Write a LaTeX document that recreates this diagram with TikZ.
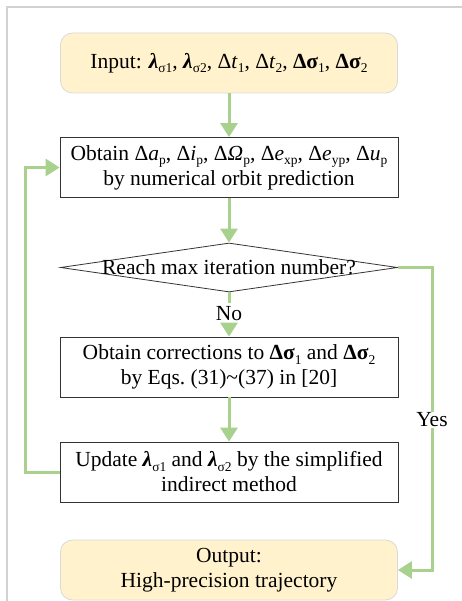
\documentclass[tikz,border=0pt]{standalone}
\usepackage{fontspec}
\setmainfont{Liberation Serif}
\usetikzlibrary{arrows.meta,shapes.geometric}
\definecolor{flowgreen}{HTML}{A9D18E}
\definecolor{ioyellow}{HTML}{FFF2CC}
\definecolor{ioborder}{HTML}{D9D9D9}
% Symbols
\newcommand\sub[1]{\raisebox{-0.22em}{\fontsize{13.5}{13.5}\selectfont #1}}
\newcommand\lamsig[1]{\textbf{\textit{λ}}\sub{σ#1}}
\newcommand\dsig[1]{\textbf{Δσ}\sub{#1}}
\begin{document}
\begin{tikzpicture}[x=1pt,y=-1pt,
    font=\fontsize{21.5}{25}\selectfont,
    iobox/.style={draw=ioborder,fill=ioyellow,rounded corners=12pt,line width=0.8pt,
      minimum width=337pt,minimum height=60pt,align=center},
    procbox/.style={draw=black!80,line width=0.8pt,
      minimum width=338pt,minimum height=60pt,align=center},
    decide/.style={diamond,draw=black!80,line width=0.8pt,inner sep=0pt,
      minimum width=337pt,minimum height=49pt},
    link/.style={flowgreen,line width=3pt},
    flow/.style={link,-{Triangle[width=17pt,length=14pt]}}]
      \useasboundingbox (0,0) rectangle (462,601);
      % Page frame
      \draw[gray!35,line width=1.2pt] (7,601) -- (7,7) -- (462,7);

      % Boxes
      \node[iobox] (input) at (229,63)
        {Input: \lamsig1, \lamsig2, Δ\textit{t}\sub{1}, Δ\textit{t}\sub{2}, \dsig1, \dsig2};
      \node[procbox] (obtain) at (229,167.5)
        {Obtain Δ\textit{a}\sub{p}, Δ\textit{i}\sub{p}, Δ\textit{Ω}\sub{p}, Δ\textit{e}\sub{xp}, Δ\textit{e}\sub{yp}, Δ\textit{u}\sub{p}\\
         by numerical orbit prediction};
      \node[decide] (reach) at (229,267.5) {};
      \node (reachtext) at (reach.center) {Reach max iteration number?};
      \node (no) at (229,314) {No};
      \node[procbox] (corr) at (229,367)
        {Obtain corrections to \dsig1 and \dsig2\\
         by Eqs.\ (31)\textasciitilde(37) in [20]};
      \node[procbox] (update) at (229,472)
        {Update \lamsig1 and \lamsig2 by the simplified\\
         indirect method};
      \node[iobox] (output) at (229,570)
        {Output:\\ High-precision trajectory};
      \node[fill=white,inner sep=1pt] (yes) at (432,420) {Yes};

      % Connectors
      \draw[flow] (input) -- (obtain);
      \draw[flow] (obtain) -- (reach);
      \draw[link] (reach.south) -- (no);
      \draw[flow] (no) -- (corr);
      \draw[flow] (corr) -- (update);
      \draw[flow] (update.west) -- ++(-34,0) |- (obtain.west);
      \draw[link] (reach.east) -| (yes.north);
      \draw[flow] (yes.south) |- (output.east);
    \end{tikzpicture}
\end{document}
